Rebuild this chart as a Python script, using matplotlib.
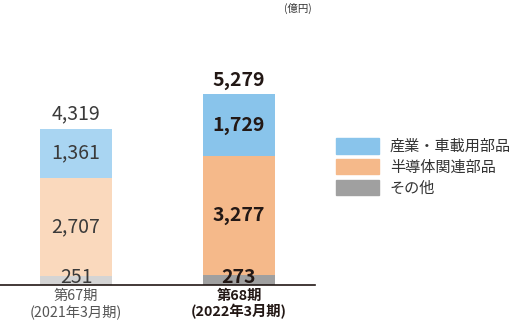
import matplotlib.pyplot as plt
from matplotlib.patches import Patch

plt.rcParams['font.family'] = ['Noto Sans CJK JP', 'DejaVu Sans']

periods = ["第67期\n(2021年3月期)", "第68期\n(2022年3月期)"]
series_names = ["その他", "半導体関連部品", "産業・車載用部品"]
other = [251, 273]
semi = [2707, 3277]
industry = [1361, 1729]
totals = [4319, 5279]

colors_now = ["#A0A0A0", "#F5B98A", "#89C4EB"]
colors_prev = ["#D4D4D4", "#FAD9BD", "#A9D5F2"]

fig = plt.figure(figsize=(5.12, 3.23), dpi=100)
ax = fig.add_axes([0, 1 - 285 / 323, 315 / 512, 285 / 323])

x = [0, 1]
width = 0.44
stack = [other, semi, industry]
for i in range(2):
    cols = colors_prev if i == 0 else colors_now
    txtcol = "#231815" if i == 1 else "#3a3a3a"
    weight = "bold" if i == 1 else "normal"
    bottom = 0
    for k, vals in enumerate(stack):
        ax.bar(x[i], vals[i], width, bottom=bottom, color=cols[k], linewidth=0)
        if k == 0:
            ypos = 55
            va = "baseline"
        else:
            ypos = bottom + vals[i] / 2
            va = "center"
        ax.text(x[i], ypos, f"{vals[i]:,}", ha="center", va=va,
                fontsize=14, color=txtcol, fontweight=weight)
        bottom += vals[i]
    ax.text(x[i], totals[i] + 120, f"{totals[i]:,}", ha="center", va="bottom",
            fontsize=14, color=txtcol, fontweight=weight)

ax.set_xlim(-76 / 163, 239 / 163)
ax.set_ylim(0, 285 / 0.0362)
for s in ["top", "right", "left"]:
    ax.spines[s].set_visible(False)
ax.spines["bottom"].set_color("#231815")
ax.spines["bottom"].set_linewidth(1.2)
ax.set_yticks([])
ax.set_xticks(x)
ax.set_xticklabels(periods, fontsize=10.3, linespacing=1.1)
ax.tick_params(axis="x", length=0, pad=3)
lbls = ax.get_xticklabels()
lbls[0].set_color("#555555")
lbls[1].set_fontweight("bold")
lbls[1].set_color("#231815")

fig.text(298 / 512, 1 - 8 / 323, "(億円)", fontsize=7.5, ha="center", va="center",
         color="#333333")

handles = [Patch(color=colors_now[2], label=series_names[2]),
           Patch(color=colors_now[1], label=series_names[1]),
           Patch(color=colors_now[0], label=series_names[0])]
fig.legend(handles=handles, loc="upper left", bbox_to_anchor=(336 / 512, 1 - 138 / 323),
           frameon=False, fontsize=10.9, handlelength=2.85, handleheight=1.2,
           handletextpad=0.7, labelspacing=0.25, borderpad=0, borderaxespad=0,
           labelcolor="#333333")

fig.savefig("out.png", dpi=100)
